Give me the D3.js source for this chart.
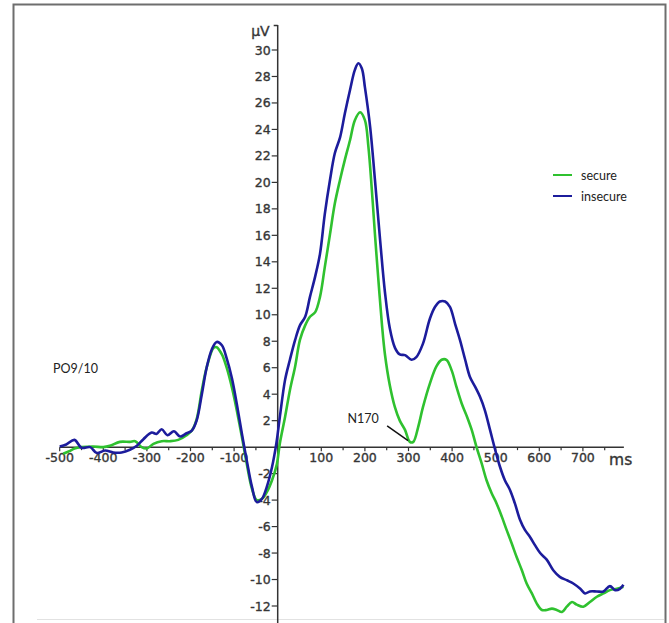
<!DOCTYPE html>
<html>
<head>
<meta charset="utf-8">
<script src="https://cdn.jsdelivr.net/npm/d3@7"></script>
<style>
  html, body { margin: 0; padding: 0; background: #fff; }
  svg { display: block; }
  .axis-label { stroke: #3a3a3a; stroke-width: 0.35px; fill: #333; }
</style>
</head>
<body>
<div id="chart"></div>
<script>
// ERP traces: [time in ms, amplitude in µV]
const secure = [
  [-492, -0.5], [-478, -0.3], [-466, -0.1], [-450, 0], [-423, 0.05], [-400, 0], [-385, 0.1],
  [-362, 0.4], [-339, 0.4], [-327, 0.45], [-312, 0], [-300, -0.1], [-285, 0.25], [-266, 0.45],
  [-247, 0.45], [-228, 0.55], [-209, 0.9], [-197, 1.25], [-186, 2.1], [-174, 4.3], [-163, 6.0],
  [-147, 7.5], [-140, 7.55], [-128, 7.0], [-117, 6.0], [-105, 4.5], [-94, 2.8], [-82, 0.75],
  [-71, -1.25], [-59, -3.15], [-48, -4.0], [-36, -3.9], [-25, -3.4], [-13, -2.5], [-2, -1.3],
  [5, 0.3], [17, 2.3], [28, 4.3], [40, 6.1], [51, 8.1], [63, 9.2], [74, 9.85], [86, 10.2],
  [97, 11.35], [108, 13.6], [120, 16.1], [131, 18.4], [143, 20.2], [154, 21.7], [166, 23.2],
  [177, 24.7], [189, 25.3], [200, 24.7], [208, 22.7], [216, 19.4], [223, 16.1], [231, 12.6],
  [239, 9.3], [246, 7.0], [257, 4.7], [269, 3.0], [280, 2.0], [292, 1.3], [303, 0.4], [311, 0.4],
  [322, 1.5], [333, 3.0], [349, 4.8], [364, 6.1], [376, 6.6], [387, 6.6], [399, 5.8], [410, 4.55],
  [422, 3.3], [433, 2.4], [445, 1.3], [456, 0], [468, -1.25], [479, -2.5], [491, -3.5],
  [502, -4.25], [514, -5.25], [525, -6.25], [537, -7.3], [548, -8.3], [560, -9.3], [571, -10.3],
  [583, -11.05], [594, -11.8], [606, -12.3], [617, -12.3], [629, -12.2], [640, -12.3],
  [652, -12.45], [663, -12.05], [675, -11.7], [686, -11.9], [701, -12.05], [716, -11.7],
  [732, -11.3], [747, -11.05], [762, -10.8], [778, -10.7], [793, -10.55]
];

const insecure = [
  [-500, 0.05], [-485, 0.2], [-466, 0.55], [-450, -0.05], [-430, 0], [-415, -0.45], [-396, -0.25],
  [-377, -0.4], [-358, -0.4], [-339, -0.2], [-323, 0.1], [-308, 0.6], [-289, 1.1], [-278, 1.0],
  [-266, 1.35], [-253, 0.9], [-238, 1.2], [-224, 0.8], [-209, 1.05], [-197, 1.25], [-186, 2.0],
  [-174, 4.0], [-163, 6.0], [-151, 7.4], [-140, 7.95], [-128, 7.7], [-117, 6.7], [-105, 5.2],
  [-94, 3.3], [-82, 1.0], [-71, -1.0], [-59, -3.0], [-48, -4.15], [-36, -3.9], [-25, -3.0],
  [-13, -1.5], [-3, 0.3], [5, 2.3], [17, 5.1], [28, 6.6], [40, 8.1], [51, 9.2], [63, 9.85],
  [74, 11.35], [86, 12.9], [97, 14.6], [108, 17.6], [120, 20.2], [131, 22.2], [143, 23.4],
  [154, 25.2], [166, 27.0], [177, 28.5], [185, 29.0], [193, 28.6], [200, 27.2], [212, 24.2],
  [223, 20.2], [235, 15.6], [246, 11.7], [257, 9.0], [269, 7.5], [280, 7.0], [292, 6.95],
  [307, 6.6], [318, 6.8], [333, 7.8], [349, 9.7], [361, 10.6], [372, 11.0], [384, 11.0],
  [395, 10.6], [407, 9.3], [418, 8.1], [430, 6.6], [441, 5.3], [453, 4.55], [464, 3.8],
  [475, 2.8], [487, 1.3], [498, -0.1], [510, -1.5], [521, -2.5], [533, -3.25], [544, -4.25],
  [556, -5.5], [567, -6.25], [579, -6.8], [590, -7.4], [602, -8.0], [617, -8.5], [632, -9.3],
  [647, -9.8], [663, -10.05], [678, -10.3], [694, -10.7], [705, -11.05], [716, -10.9],
  [732, -10.9], [747, -10.9], [762, -10.5], [774, -10.8], [785, -10.7], [793, -10.4]
];

const xTicks = [-500, -400, -300, -200, -100, 100, 200, 300, 400, 500, 600, 700];
const xMinorTicks = [-450, -350, -250, -150, -50, 50, 150, 250, 350, 450, 550, 650, 750];
const yTicks = [30, 28, 26, 24, 22, 20, 18, 16, 14, 12, 10, 8, 6, 4, 2, -2, -4, -6, -8, -10, -12];
const series = [
  { name: 'secure', color: '#2fc12f', data: secure },
  { name: 'insecure', color: '#1c1c9c', data: insecure }
];
const n170 = { label: 'N170', text: [160, 1.8], from: [251, 1.6], to: [299, 0.5] };

const W = 669, H = 623;
const svg = d3.select('#chart').append('svg')
  .attr('width', W)
  .attr('height', H);

// frame round the figure
svg.append('rect')
  .attr('x', 13.5).attr('y', 4.5)
  .attr('width', 652).attr('height', 660)
  .attr('fill', 'none')
  .attr('stroke', '#6e6e6e')
  .attr('stroke-width', 2);
svg.append('line')
  .attr('x1', 37).attr('x2', 664)
  .attr('y1', 619.5).attr('y2', 619.5)
  .attr('stroke', '#e2e2e2');

const x = d3.scaleLinear().domain([-500, 700]).range([59.7, 582.9]);
const y = d3.scaleLinear().domain([-12, 30]).range([606, 50]);
const axisColor = '#333';
const labelFont = '"DejaVu Sans", sans-serif';

// x axis
const xAxis = svg.append('g').attr('transform', `translate(0, ${y(0)})`);
xAxis.append('line')
  .attr('x1', x(-500)).attr('x2', x(794))
  .attr('stroke', axisColor).attr('stroke-width', 1.5);
xAxis.selectAll('line.major')
  .data(xTicks)
  .enter().append('line')
  .attr('class', 'major')
  .attr('x1', d => x(d)).attr('x2', d => x(d))
  .attr('y1', 0).attr('y2', 4)
  .attr('stroke', axisColor).attr('stroke-width', 1.2);
xAxis.selectAll('line.minor')
  .data(xMinorTicks)
  .enter().append('line')
  .attr('class', 'minor')
  .attr('x1', d => x(d)).attr('x2', d => x(d))
  .attr('y1', 0).attr('y2', 3)
  .attr('stroke', axisColor).attr('stroke-width', 1.2);
xAxis.selectAll('text')
  .data(xTicks)
  .enter().append('text')
  .attr('class', 'axis-label')
  .attr('x', d => x(d))
  .attr('y', 15)
  .attr('text-anchor', 'middle')
  .attr('font-family', labelFont)
  .attr('font-size', 12.5)
  .text(d => d);
svg.append('text')
  .attr('class', 'axis-label')
  .attr('x', x(760))
  .attr('y', y(0) + 18)
  .attr('font-family', labelFont)
  .attr('font-size', 15.5)
  .text('ms');

// y axis
const yAxis = svg.append('g').attr('transform', `translate(${x(0)}, 0)`);
yAxis.append('line')
  .attr('y1', 25).attr('y2', H)
  .attr('stroke', axisColor).attr('stroke-width', 1.5);
yAxis.append('line')
  .attr('x1', -4).attr('x2', 0)
  .attr('y1', 25.5).attr('y2', 25.5)
  .attr('stroke', axisColor).attr('stroke-width', 1.5);
yAxis.selectAll('line.tick')
  .data(yTicks)
  .enter().append('line')
  .attr('class', 'tick')
  .attr('x1', -6).attr('x2', 0)
  .attr('y1', d => y(d)).attr('y2', d => y(d))
  .attr('stroke', axisColor).attr('stroke-width', 1.2);
yAxis.selectAll('text')
  .data(yTicks)
  .enter().append('text')
  .attr('class', 'axis-label')
  .attr('x', -7)
  .attr('y', d => y(d) + 4.5)
  .attr('text-anchor', 'end')
  .attr('font-family', labelFont)
  .attr('font-size', 12.5)
  .text(d => d);
svg.append('text')
  .attr('class', 'axis-label')
  .attr('x', x(0) - 8)
  .attr('y', 36)
  .attr('text-anchor', 'end')
  .attr('font-family', labelFont)
  .attr('font-size', 14)
  .text('µV');

// traces
const line = d3.line()
  .x(d => x(d[0]))
  .y(d => y(d[1]))
  .curve(d3.curveCatmullRom.alpha(0.5));

svg.selectAll('path.trace')
  .data(series)
  .enter().append('path')
  .attr('class', 'trace')
  .attr('d', d => line(d.data))
  .attr('fill', 'none')
  .attr('stroke', d => d.color)
  .attr('stroke-width', 2.6)
  .attr('stroke-linejoin', 'round');

// annotations
const noteFont = 'Lato, "Open Sans", sans-serif';
svg.append('text')
  .attr('x', 53).attr('y', 373)
  .attr('font-family', noteFont)
  .attr('font-size', 12.5)
  .attr('fill', '#222')
  .text('PO9/10');
svg.append('text')
  .attr('x', x(n170.text[0])).attr('y', y(n170.text[1]))
  .attr('font-family', noteFont)
  .attr('font-size', 12.5)
  .attr('fill', '#222')
  .text(n170.label);
svg.append('line')
  .attr('x1', x(n170.from[0])).attr('y1', y(n170.from[1]))
  .attr('x2', x(n170.to[0])).attr('y2', y(n170.to[1]))
  .attr('stroke', '#111').attr('stroke-width', 1.5);

// legend
const legend = svg.append('g').attr('transform', 'translate(553, 175)');
const items = legend.selectAll('g')
  .data(series)
  .enter().append('g')
  .attr('transform', (d, i) => `translate(0, ${i * 21})`);
items.append('line')
  .attr('x1', 0).attr('x2', 19)
  .attr('stroke', d => d.color)
  .attr('stroke-width', 2);
items.append('text')
  .attr('x', 28).attr('y', 5)
  .attr('font-family', noteFont)
  .attr('font-size', 12.5)
  .attr('fill', '#222')
  .text(d => d.name);
</script>
</body>
</html>
